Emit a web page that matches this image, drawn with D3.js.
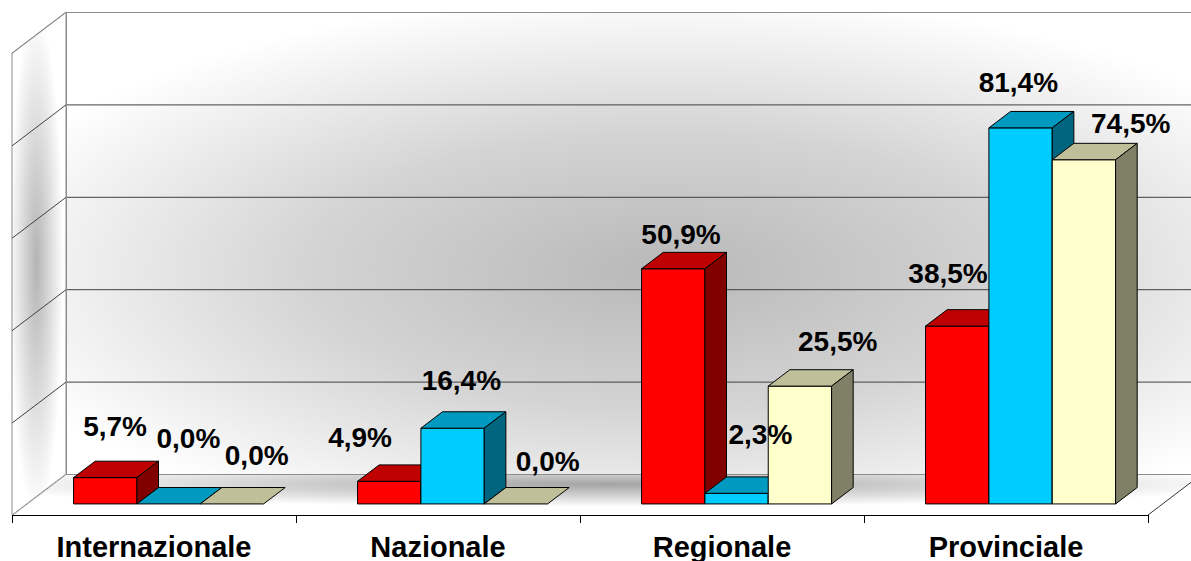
<!DOCTYPE html>
<html>
<head>
<meta charset="utf-8">
<script src="https://cdn.jsdelivr.net/npm/d3@7"></script>
<style>
  html, body { margin: 0; padding: 0; background: #fff; }
  svg { display: block; }
</style>
</head>
<body>
<div id="chart"></div>
<script>
const categories = ['Internazionale', 'Nazionale', 'Regionale', 'Provinciale'];
const seriesKeys = ['red', 'blue', 'beige'];
const valuesRed = [5.7, 4.9, 50.9, 38.5];
const valuesBlue = [0.0, 16.4, 2.3, 81.4];
const valuesBeige = [0.0, 0.0, 25.5, 74.5];
const yTicks = [0, 20, 40, 60, 80, 100];

// face colours: front / top / side
const colors = {
  red:   { front: '#ff0000', top: '#bf0000', side: '#800000' },
  blue:  { front: '#00ccff', top: '#0099bf', side: '#006680' },
  beige: { front: '#ffffcc', top: '#bfbf99', side: '#808066' }
};

// hand placement of the value labels (Excel moved them around)
const labelNudge = {
  red:   [[-1, -17], [-40, -10], [-3, 0], [-20, -19]],
  blue:  [[9, -32], [-2, -14], [13, -25], [-13, -11]],
  beige: [[14, -15], [21, -9], [27, -11], [36, -2]]
};

const seriesValues = { red: valuesRed, blue: valuesBlue, beige: valuesBeige };

const width = 1191, height = 561;
const left = 12, right = 1148, floorY = 515;
const depth = { x: 54, y: -41 };   // oblique depth vector of the floor
const f0 = 0.27, fd = 0.4;          // bar front position and bar depth (fraction of floor depth)

const svg = d3.select('#chart').append('svg')
  .attr('width', width)
  .attr('height', height);

const x0 = d3.scaleBand().domain(categories).range([left, right]);
const x1 = d3.scaleBand().domain(seriesKeys).range([0, x0.bandwidth()]).paddingInner(0).paddingOuter(0.742);
const y = d3.scaleLinear().domain([0, 100]).range([floorY, floorY - 462]);

const P = (x, v, d) => [x + d * depth.x, y(v) + d * depth.y];
const poly = pts => 'M' + pts.map(p => p.join(',')).join('L') + 'Z';

// Gradients
const defs = svg.append('defs');
const wallGrad = defs.append('radialGradient').attr('id', 'wallGrad')
  .attr('cx', 0.5).attr('cy', 0.56).attr('r', 0.6);
wallGrad.append('stop').attr('offset', '0%').attr('stop-color', '#b8b8b8');
wallGrad.append('stop').attr('offset', '50%').attr('stop-color', '#d4d4d4');
wallGrad.append('stop').attr('offset', '100%').attr('stop-color', '#ffffff');

const floorGrad = defs.append('radialGradient').attr('id', 'floorGrad')
  .attr('cx', 0.5).attr('cy', 0.25).attr('r', 0.55);
floorGrad.append('stop').attr('offset', '0%').attr('stop-color', '#a4a4a4');
floorGrad.append('stop').attr('offset', '100%').attr('stop-color', '#ffffff');

const sideGrad = defs.append('radialGradient').attr('id', 'sideGrad')
  .attr('cx', 0.45).attr('cy', 0.5).attr('r', 0.5);
sideGrad.append('stop').attr('offset', '0%').attr('stop-color', '#b4b4b4');
sideGrad.append('stop').attr('offset', '100%').attr('stop-color', '#ffffff');

// Walls and floor
const wallRight = right + 60;
svg.append('path')
  .attr('d', poly([P(left, 0, 1), P(wallRight, 0, 1), P(wallRight, 100, 1), P(left, 100, 1)]))
  .attr('fill', 'url(#wallGrad)');
svg.append('path')
  .attr('d', poly([P(left, 0, 0), P(left, 100, 0), P(left, 100, 1), P(left, 0, 1)]))
  .attr('fill', 'url(#sideGrad)')
  .attr('stroke', '#8c8c8c');
svg.append('path')
  .attr('d', poly([P(left, 0, 0), P(right, 0, 0), P(right, 0, 1), P(left, 0, 1)]))
  .attr('fill', 'url(#floorGrad)');

// Gridlines on side wall and back wall
const grid = svg.append('g').attr('fill', 'none');
grid.selectAll('path')
  .data(yTicks)
  .join('path')
  .attr('d', v => {
    const a = P(left, v, 0), b = P(left, v, 1), c = P(wallRight, v, 1);
    return `M${a[0]},${a[1] + 0.5}L${b[0]},${b[1] + 0.5}L${c[0]},${c[1] + 0.5}`;
  })
  .attr('stroke', v => (v === 0 || v === 100) ? '#8c8c8c' : '#404040')
  .attr('stroke-width', 1);

// back wall left edge
svg.append('line')
  .attr('x1', P(left, 0, 1)[0] + 0.5).attr('x2', P(left, 100, 1)[0] + 0.5)
  .attr('y1', P(left, 0, 1)[1]).attr('y2', P(left, 100, 1)[1])
  .attr('stroke', '#8c8c8c');

// floor right edge and front axis
svg.append('line')
  .attr('x1', P(right, 0, 0)[0]).attr('y1', P(right, 0, 0)[1])
  .attr('x2', P(right, 0, 1)[0]).attr('y2', P(right, 0, 1)[1])
  .attr('stroke', '#333');
svg.append('line')
  .attr('x1', left).attr('x2', right)
  .attr('y1', floorY + 0.5).attr('y2', floorY + 0.5)
  .attr('stroke', '#000');

const tickXs = categories.map(c => x0(c)).concat([right]);
svg.selectAll('.tick')
  .data(tickXs)
  .join('line')
  .attr('class', 'tick')
  .attr('x1', d => d + 0.5).attr('x2', d => d + 0.5)
  .attr('y1', floorY).attr('y2', floorY + 8)
  .attr('stroke', '#000');

// Bars
const bars = [];
categories.forEach((c, i) => {
  seriesKeys.forEach(k => {
    const xa = x0(c) + x1(k);
    bars.push({ cat: c, i, key: k, value: seriesValues[k][i], xa, xb: xa + x1.bandwidth() });
  });
});

const barG = svg.selectAll('.bar')
  .data(bars)
  .join('g')
  .attr('class', 'bar')
  .attr('stroke', '#000')
  .attr('stroke-width', 1)
  .attr('stroke-linejoin', 'round');

barG.filter(d => d.value > 0).append('path')
  .attr('d', d => poly([P(d.xa, 0, f0), P(d.xb, 0, f0), P(d.xb, d.value, f0), P(d.xa, d.value, f0)]))
  .attr('fill', d => colors[d.key].front);

barG.append('path')
  .attr('d', d => poly([P(d.xa, d.value, f0), P(d.xb, d.value, f0), P(d.xb, d.value, f0 + fd), P(d.xa, d.value, f0 + fd)]))
  .attr('fill', d => colors[d.key].top);

barG.filter(d => d.value > 0).append('path')
  .attr('d', d => poly([P(d.xb, 0, f0), P(d.xb, d.value, f0), P(d.xb, d.value, f0 + fd), P(d.xb, 0, f0 + fd)]))
  .attr('fill', d => colors[d.key].side);

// Value labels, anchored above the middle of each bar's top face
const fmt = d3.format('.1f');
svg.selectAll('.value-label')
  .data(bars)
  .join('text')
  .attr('class', 'value-label')
  .attr('x', d => (d.xa + d.xb) / 2 + (f0 + fd / 2) * depth.x + labelNudge[d.key][d.i][0])
  .attr('y', d => y(d.value) + (f0 + fd) * depth.y - 8 + labelNudge[d.key][d.i][1])
  .attr('text-anchor', 'middle')
  .style('font-family', '"Liberation Sans", Arial, sans-serif')
  .style('font-size', '28px')
  .style('font-weight', 'bold')
  .style('fill', '#000')
  .text(d => fmt(d.value).replace('.', ',') + '%');

// Category labels
svg.selectAll('.cat-label')
  .data(categories)
  .join('text')
  .attr('class', 'cat-label')
  .attr('x', d => x0(d) + x0.bandwidth() / 2)
  .attr('y', 557)
  .attr('text-anchor', 'middle')
  .style('font-family', '"Liberation Sans", Arial, sans-serif')
  .style('font-size', '29px')
  .style('font-weight', 'bold')
  .style('fill', '#000')
  .text(d => d);
</script>
</body>
</html>
